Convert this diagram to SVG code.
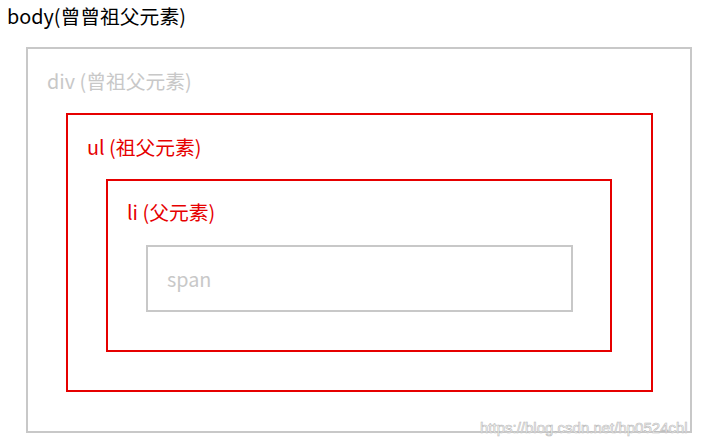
<svg xmlns="http://www.w3.org/2000/svg" width="707" height="447" viewBox="0 0 707 447">
<style>
text{font-family:"Noto Sans CJK SC","Microsoft YaHei",sans-serif;font-size:19.8px}
.gray{fill:none;stroke:#c8c8c8;stroke-width:2}
.red{fill:none;stroke:#e60000;stroke-width:2}
.tg{fill:#c8c8c8}
.tr{fill:#e60000}
.wm{font-family:"Liberation Sans",Arial,sans-serif;font-size:15px;fill:#ffffff;stroke:#b8b8b8;stroke-width:0.6}
</style>
<rect width="707" height="447" fill="#ffffff"/>
<g id="body">
<text x="7" y="24" font-size="20.8" fill="#000">body(曾曾祖父元素)</text>
</g>
<g id="div">
<rect class="gray" x="27" y="48" width="664" height="384"/>
<text class="tg" x="47" y="89" font-size="20.3">div (曾祖父元素)</text>
</g>
<g id="ul">
<rect class="red" x="67" y="114" width="585" height="277"/>
<text class="tr" x="87" y="155">ul (祖父元素)</text>
</g>
<g id="li">
<rect class="red" x="107" y="180" width="504" height="171"/>
<text class="tr" x="127" y="220">li (父元素)</text>
</g>
<g id="span">
<rect class="gray" x="147" y="246" width="425" height="65"/>
<text class="tg" x="167" y="287">span</text>
</g>
<g id="connectors"></g>
<text class="wm" x="480" y="433">https://blog.csdn.net/hp0524chl</text>
</svg>
